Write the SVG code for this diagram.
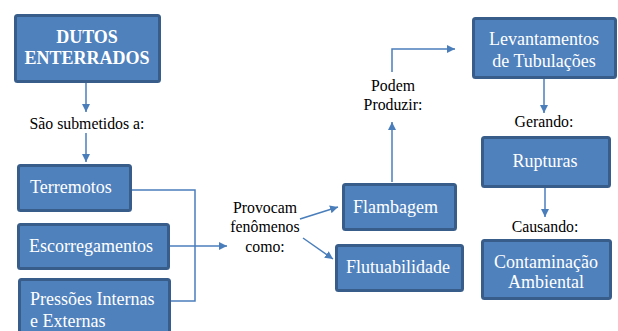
<svg xmlns="http://www.w3.org/2000/svg" width="618" height="331" viewBox="0 0 618 331">
<style>
.box{fill:#4f81bd;stroke:#385d8a;stroke-width:3}
.bt{font-family:"Liberation Serif",serif;font-size:18px;fill:#ffffff}
.lb{font-family:"Liberation Serif",serif;font-size:15.8px;fill:#000000}
.ln{fill:none;stroke:#4a7ebb;stroke-width:1.5}
</style>
<defs>
<marker id="ah" viewBox="0 0 10 10" refX="10" refY="5" markerWidth="8" markerHeight="8" markerUnits="userSpaceOnUse" orient="auto">
<path d="M0,0 L10,5 L0,10 Z" fill="#4a7ebb"/>
</marker>
</defs>
<rect width="618" height="331" fill="#ffffff"/>
<g id="connectors">
<line class="ln" x1="86" y1="83" x2="86" y2="112" marker-end="url(#ah)"/>
<line class="ln" x1="86" y1="133" x2="86" y2="162" marker-end="url(#ah)"/>
<polyline class="ln" points="132,190 195,190 195,301 171,301"/>
<line class="ln" x1="170" y1="246" x2="227" y2="246" marker-end="url(#ah)"/>
<line class="ln" x1="300" y1="219" x2="338" y2="207" marker-end="url(#ah)"/>
<line class="ln" x1="303" y1="238" x2="333" y2="259" marker-end="url(#ah)"/>
<line class="ln" x1="392" y1="182" x2="392" y2="122" marker-end="url(#ah)"/>
<polyline class="ln" points="392,72 392,49 455,49" marker-end="url(#ah)"/>
<line class="ln" x1="544" y1="79" x2="544" y2="113" marker-end="url(#ah)"/>
<line class="ln" x1="545" y1="188" x2="545" y2="217" marker-end="url(#ah)"/>
</g>
<g id="dutos">
<rect class="box" x="15.5" y="15.5" width="144" height="66" rx="2"/>
<text class="bt" font-weight="bold" font-size="17px" text-anchor="middle" x="87" y="43">DUTOS</text>
<text class="bt" font-weight="bold" font-size="17px" text-anchor="middle" x="87" y="64">ENTERRADOS</text>
</g>
<g id="label-submetidos"><text class="lb" text-anchor="middle" x="87" y="129">São submetidos a:</text></g>
<g id="terremotos">
<rect class="box" x="18.5" y="165.5" width="112" height="45" rx="2"/>
<text class="bt" x="30" y="193">Terremotos</text>
</g>
<g id="escorregamentos">
<rect class="box" x="18.5" y="224.5" width="150" height="44" rx="2"/>
<text class="bt" x="29" y="252">Escorregamentos</text>
</g>
<g id="pressoes">
<rect class="box" x="19.5" y="279.5" width="150" height="60" rx="2"/>
<text class="bt" x="30" y="305">Pressões Internas</text>
<text class="bt" x="30" y="327">e Externas</text>
</g>
<g id="label-provocam">
<text class="lb" text-anchor="middle" x="265" y="213">Provocam</text>
<text class="lb" text-anchor="middle" x="265" y="232">fenômenos</text>
<text class="lb" text-anchor="middle" x="265" y="252">como:</text>
</g>
<g id="flambagem">
<rect class="box" x="343.5" y="184.5" width="112" height="45" rx="2"/>
<text class="bt" x="353" y="213">Flambagem</text>
</g>
<g id="flutuabilidade">
<rect class="box" x="336.5" y="245.5" width="126" height="45" rx="2"/>
<text class="bt" x="346" y="273">Flutuabilidade</text>
</g>
<g id="label-podem">
<text class="lb" text-anchor="middle" x="393" y="91">Podem</text>
<text class="lb" text-anchor="middle" x="393" y="110">Produzir:</text>
</g>
<g id="levantamentos">
<rect class="box" x="473.5" y="18.5" width="142" height="59" rx="2"/>
<text class="bt" text-anchor="middle" x="544" y="45">Levantamentos</text>
<text class="bt" text-anchor="middle" x="544" y="67">de Tubulações</text>
</g>
<g id="label-gerando"><text class="lb" text-anchor="middle" x="544" y="127">Gerando:</text></g>
<g id="rupturas">
<rect class="box" x="482.5" y="137.5" width="127" height="49" rx="2"/>
<text class="bt" text-anchor="middle" x="545" y="167">Rupturas</text>
</g>
<g id="label-causando"><text class="lb" text-anchor="middle" x="545" y="232">Causando:</text></g>
<g id="contaminacao">
<rect class="box" x="482.5" y="240.5" width="128" height="58" rx="2"/>
<text class="bt" text-anchor="middle" x="546" y="268">Contaminação</text>
<text class="bt" text-anchor="middle" x="546" y="288">Ambiental</text>
</g>
</svg>
